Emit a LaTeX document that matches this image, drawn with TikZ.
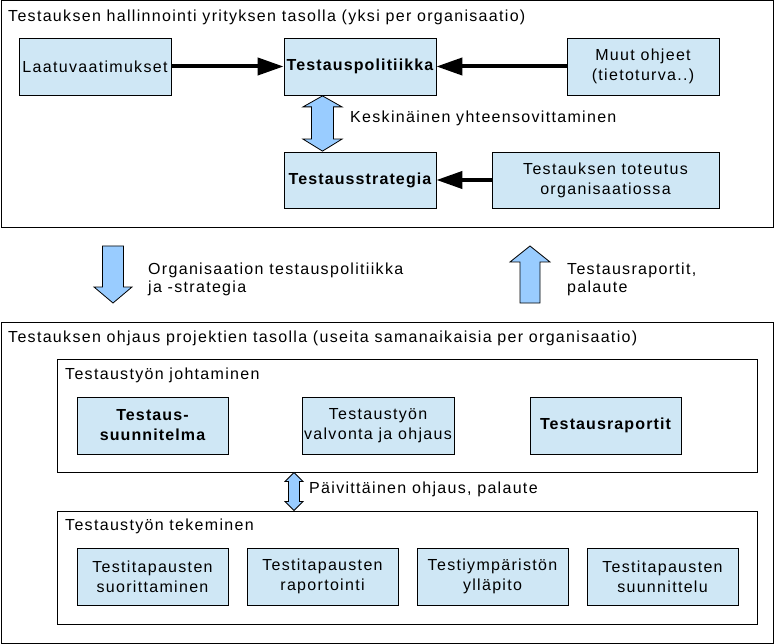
\documentclass[tikz,border=0pt]{standalone}
\usepackage{fontspec}
\setmainfont{Liberation Sans}[LetterSpace=8.2,BoldFeatures={LetterSpace=7}]
\usetikzlibrary{arrows.meta,calc}
\definecolor{boxfill}{HTML}{CFE7F5}
\definecolor{arrfill}{HTML}{99CCFF}
\begin{document}
\begin{tikzpicture}[x=1pt,y=-1pt,
  every node/.style={font=\fontsize{16}{20}\selectfont},
  box/.style={draw=black,line width=0.8pt,fill=boxfill,minimum width=151,minimum height=57,inner sep=1pt,align=center},
  frame/.style={draw=black,line width=1pt},
  ttl/.style={anchor=west,inner sep=0pt},
  blackarrow/.style={line width=4pt,-{Triangle[length=26pt,width=17pt]}},
  fatarrow/.style={draw=black,line width=0.8pt,fill=arrfill,line join=miter}]
\useasboundingbox (0,0) rectangle (776,644);
% top frame
\draw[frame] (1,1) rectangle (773,228);
\node[ttl] (t1) at (8,17) {Testauksen hallinnointi yrityksen tasolla (yksi per organisaatio)};
\node[box,minimum width=152] (laatu) at (95,66.5) {Laatuvaatimukset};
\node[box,minimum width=152,font=\fontsize{16}{20}\selectfont\bfseries] (pol) at (360,66.5) {Testauspolitiikka};
\node[box,minimum width=152] (muut) at (643,66.5) {Muut ohjeet\\(tietoturva..)};
\node[box,minimum width=152,minimum height=56,font=\fontsize{16}{20}\selectfont\bfseries] (strat) at (360,180) {Testausstrategia};
\node[box,minimum width=227,minimum height=56] (tot) at (605.5,180) {Testauksen toteutus\\organisaatiossa};
\draw[blackarrow] (laatu.east) -- (pol.west);
\draw[blackarrow] (muut.west) -- (pol.east);
\draw[blackarrow] (tot.west) -- (strat.east);
\coordinate (ka) at ([xshift=-37.5pt,yshift=-0.5pt]pol.south);
\coordinate (kb) at ([xshift=-37.5pt,yshift=0.5pt]strat.north);
\draw[fatarrow] (ka) -- ++(19.5,11) -- ++(-8.5,0) -- ($(kb)+(11,-12)$) -- ++(8.5,0) -- (kb) -- ++(-19.5,-12) -- ++(8.5,0) -- ($(ka)+(-11,11)$) -- ++(-8.5,0) -- cycle;
\node[ttl] (kesk) at (350,118) {Keskinäinen yhteensovittaminen};
% middle arrows
\draw[fatarrow] (102.5,246) -- (123.5,246) -- (123.5,287) -- (132,287) -- (113,303) -- (94,287) -- (102.5,287) -- cycle;
\node[ttl,align=left,font=\fontsize{16}{18}\selectfont] (org) at (148,279) {Organisaation testauspolitiikka\\ja -strategia};
\draw[fatarrow] (530,246) -- (550,262) -- (540,262) -- (540,303) -- (520,303) -- (520,262) -- (510,262) -- cycle;
\node[ttl,align=left,font=\fontsize{16}{18}\selectfont] (rap) at (567,279) {Testausraportit,\\palaute};
% bottom frame
\draw[frame] (1,322) rectangle (773,643);
\node[ttl] (t2) at (8,338) {Testauksen ohjaus projektien tasolla (useita samanaikaisia per organisaatio)};
\draw[frame] (57,359) rectangle (757,472);
\node[ttl] (t3) at (65,375) {Testaustyön johtaminen};
\node[box,font=\fontsize{16}{20}\selectfont\bfseries] (suun) at (152.5,425.5) {Testaus-\\suunnitelma};
\node[box,minimum width=152] (valv) at (378,425.5) {Testaustyön\\valvonta ja ohjaus};
\node[box,font=\fontsize{16}{20}\selectfont\bfseries] (raps) at (605.5,425.5) {Testausraportit};
\coordinate (pa) at (294,472.5);
\coordinate (pb) at (294,510.5);
\draw[fatarrow] (pa) -- ++(9,9) -- ++(-3.5,0) -- ($(pb)+(5.5,-9)$) -- ++(3.5,0) -- (pb) -- ++(-9,-9) -- ++(3.5,0) -- ($(pa)+(-5.5,9)$) -- ++(-3.5,0) -- cycle;
\node[ttl] (paiv) at (309,489) {Päivittäinen ohjaus, palaute};
\draw[frame] (57,511) rectangle (757,624);
\node[ttl] (t4) at (65,526) {Testaustyön tekeminen};
\node[box] (suor) at (152.5,576.5) {Testitapausten\\suorittaminen};
\node[box] (rapo) at (322.5,576.5) {Testitapausten\\raportointi};
\node[box] (ymp) at (492.5,576.5) {Testiympäristön\\ylläpito};
\node[box] (suunt) at (662.5,576.5) {Testitapausten\\suunnittelu};
\end{tikzpicture}
\end{document}
